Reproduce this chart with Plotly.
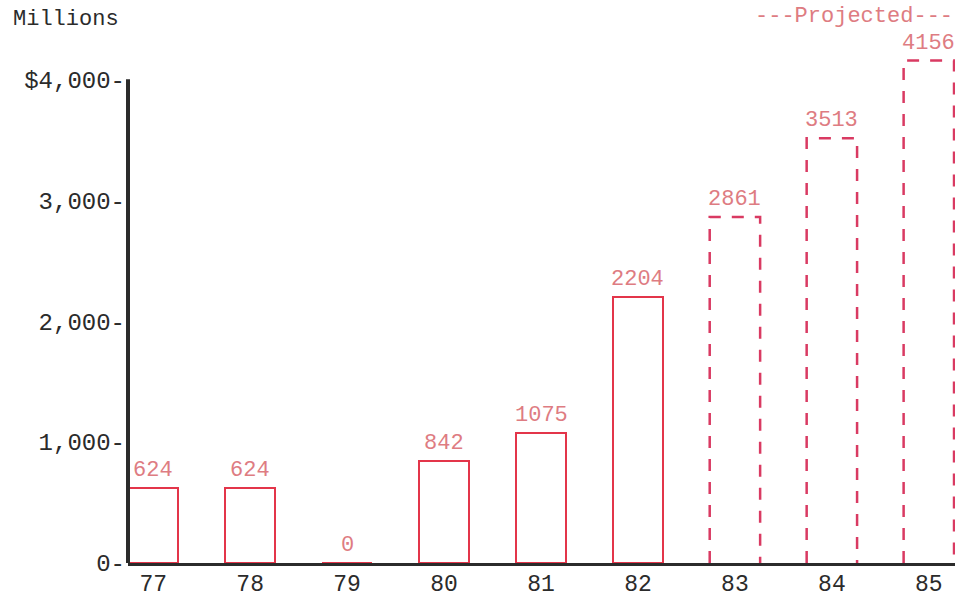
import plotly.graph_objects as go

# Annual amounts in millions of dollars; the last three years are projections
years = ["77", "78", "79", "80", "81", "82", "83", "84", "85"]
values = [624, 624, 0, 842, 1075, 2204, 2861, 3513, 4156]
projected = [False, False, False, False, False, False, True, True, True]

y_tick_vals = [0, 1000, 2000, 3000, 4000]
y_tick_text = ["0-", "1,000-", "2,000-", "3,000-", "$4,000-"]

MONO = "Liberation Mono, Courier New, monospace"
BAR_RED = "#e3354a"
DASH_RED = "#d93a62"
LABEL_RED = "#de7c82"
INK = "#2b2b2b"
HALF = 0.26  # half bar width in category units

fig = go.Figure()

idx = list(range(len(years)))

# Actual years: outlined bars
act_x = [i for i in idx if not projected[i]]
act_y = [values[i] for i in idx if not projected[i]]
fig.add_trace(go.Bar(
    x=act_x, y=act_y, width=2 * HALF,
    marker=dict(color="rgba(255,255,255,0)", line=dict(color=BAR_RED, width=2)),
    showlegend=False, hoverinfo="skip",
))

# Projected years: dashed outlines
for i in idx:
    if not projected[i]:
        continue
    v = values[i]
    fig.add_trace(go.Scatter(
        x=[i - HALF, i - HALF, i + HALF, i + HALF],
        y=[0, v, v, 0],
        mode="lines",
        line=dict(color=DASH_RED, width=2.5, dash="12px,11px"),
        showlegend=False, hoverinfo="skip",
    ))

# Value labels above each bar
for i in idx:
    fig.add_annotation(
        x=i, y=values[i], xref="x", yref="y",
        text=str(values[i]), showarrow=False,
        xanchor="center", yanchor="bottom", yshift=3,
        font=dict(family=MONO, size=22, color=LABEL_RED),
    )

# Vertical axis line running from 0 up to the top tick
fig.add_shape(type="line", xref="paper", yref="y", x0=0, x1=0,
              y0=0, y1=y_tick_vals[-1], line=dict(color=INK, width=4))

fig.add_annotation(text="Millions", xref="paper", yref="paper",
                   x=-0.141, y=1.021, xanchor="left", yanchor="middle",
                   showarrow=False, font=dict(family=MONO, size=22, color=INK))
fig.add_annotation(text="---Projected---", xref="paper", yref="paper",
                   x=1.0, y=1.028, xanchor="right", yanchor="middle",
                   showarrow=False, font=dict(family=MONO, size=22, color=LABEL_RED))

fig.update_layout(
    width=969, height=598,
    margin=dict(l=128, r=14, t=31, b=35),
    plot_bgcolor="white", paper_bgcolor="white",
    bargap=0,
    xaxis=dict(
        range=[-0.26, 8.27], automargin=False,
        tickmode="array", tickvals=idx, ticktext=years,
        tickfont=dict(family=MONO, size=23, color=INK),
        showline=True, linecolor=INK, linewidth=3,
        showgrid=False, zeroline=False, ticks="",
        ticklabelstandoff=-3,
    ),
    yaxis=dict(
        range=[0, 4400], automargin=False,
        tickmode="array", tickvals=y_tick_vals, ticktext=y_tick_text,
        tickfont=dict(family=MONO, size=24, color=INK),
        showline=False, showgrid=False, zeroline=False, ticks="",
        ticklabelstandoff=2,
    ),
)

fig.write_html("out.html")
